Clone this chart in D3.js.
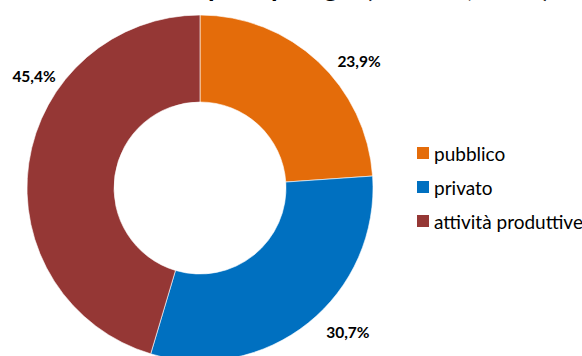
<!DOCTYPE html>
<html><head><meta charset="utf-8">
<script src="https://cdn.jsdelivr.net/npm/d3@7"></script>
<style>
html,body{margin:0;padding:0;background:#fff;overflow:hidden;}
text{font-family:Lato,"Open Sans",sans-serif;}
</style></head>
<body>
<svg id="chart" width="582" height="356"></svg>
<script>
const titleLead = "Investimenti ";
const titleMain = "per tipologia (valori %, 2011)";
const categories = ["pubblico", "privato", "attività produttive"];
const values = [23.9, 30.7, 45.4];
const valueLabels = ["23,9%", "30,7%", "45,4%"];
const colors = ["#E46C0A", "#0070C0", "#953735"];

const svg = d3.select("#chart");
const cx = 200, cy = 188, R = 173, r = 86;

// title (mostly cut off at the top edge, as in the reference)
const probe = svg.append("text").attr("font-size", 24).attr("font-weight", "bold").text(titleMain);
const w = probe.node().getComputedTextLength();
probe.remove();
const fs = 24 * 342 / w;
svg.append("text").attr("x", 550).attr("y", -3.3).attr("text-anchor", "end")
  .attr("font-size", fs).attr("font-weight", "bold").attr("fill", "#000")
  .text(titleLead + titleMain);

const pie = d3.pie().sort(null).value(d => d.v);
const data = pie(categories.map((c, i) => ({c, v: values[i], lab: valueLabels[i], col: colors[i]})));
const arc = d3.arc().innerRadius(r).outerRadius(R);
const g = svg.append("g").attr("transform", `translate(${cx},${cy})`);
g.selectAll("path").data(data).join("path")
  .attr("d", arc).attr("fill", d => d.data.col)
  .attr("stroke", "#fff").attr("stroke-width", 0.6);

// labels: outside the ring, nudged from the slice midpoint like the original
const labelArc = d3.arc().innerRadius(195).outerRadius(195);
const labOffsets = [[26, 16], [26, -8], [27, -84]];
g.selectAll("text.lab").data(data).join("text").attr("class", "lab")
  .attr("transform", (d, i) => {
    const p = labelArc.centroid(d);
    return `translate(${p[0] + labOffsets[i][0]},${p[1] + labOffsets[i][1]})`;
  })
  .attr("text-anchor", "middle").attr("dominant-baseline", "central")
  .attr("font-size", 15.5).attr("font-weight", "bold").attr("fill", "#000")
  .text(d => d.data.lab);

const leg = svg.append("g").attr("transform", "translate(417,153)");
const rows = leg.selectAll("g").data(categories).join("g")
  .attr("transform", (d, i) => `translate(0,${i * 34})`);
rows.append("rect").attr("x", 0).attr("y", -6).attr("width", 12).attr("height", 12)
  .attr("fill", (d, i) => colors[i]);
rows.append("text").attr("x", 17).attr("y", 0).attr("dominant-baseline", "central")
  .attr("font-size", 19).attr("fill", "#000").text(d => d);
</script>
</body></html>
